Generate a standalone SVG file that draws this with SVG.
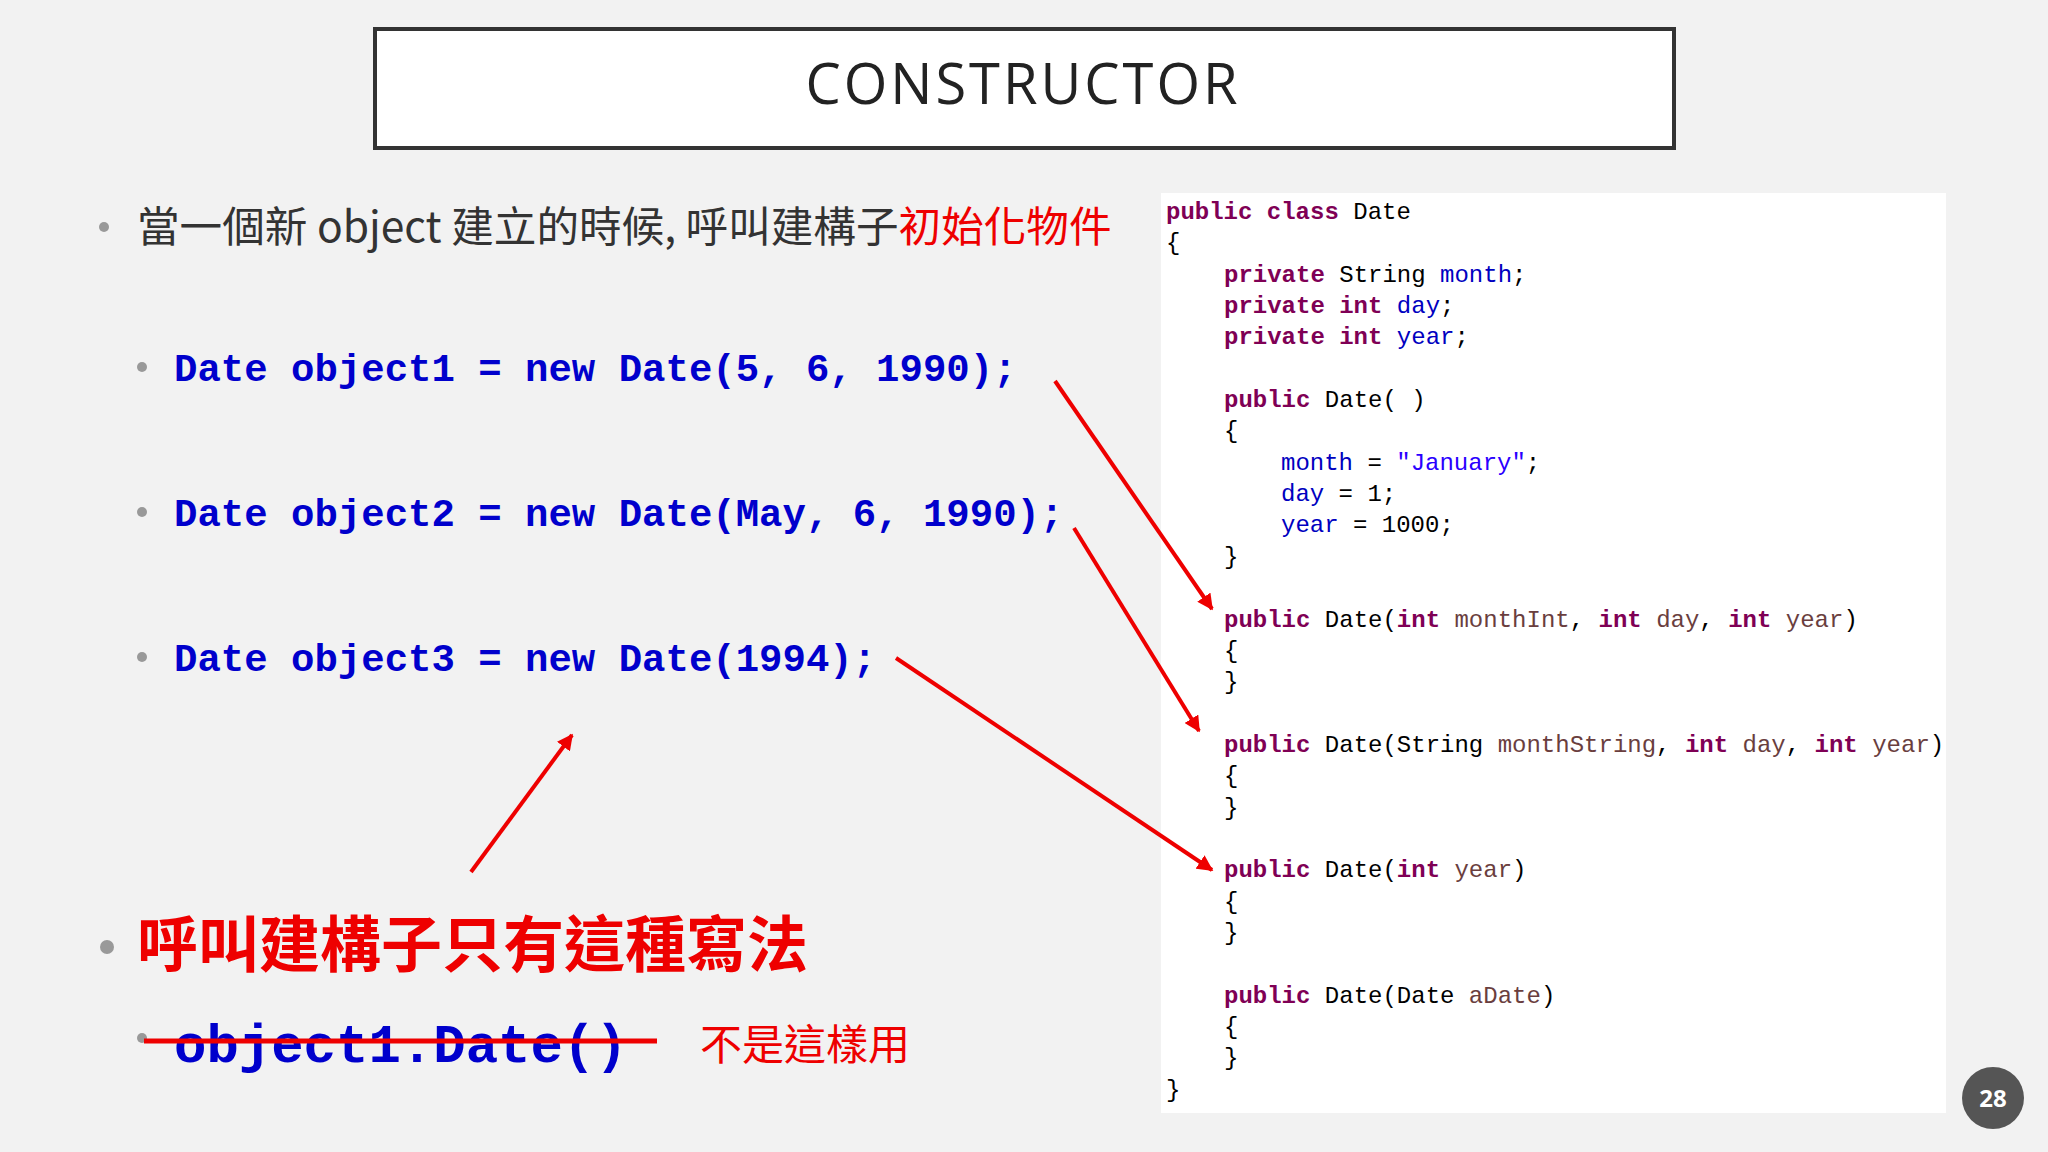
<svg xmlns="http://www.w3.org/2000/svg" width="2048" height="1152" viewBox="0 0 2048 1152">
<defs>
<style>
.cjk{font-family:"Noto Sans CJK TC","Noto Sans",sans-serif}
.code{font-family:"Liberation Mono",monospace;font-size:24px;fill:#000}
.big{font-family:"Liberation Mono",monospace;font-size:39px;font-weight:bold;fill:#0000cc}
.kw{fill:#7f0055;font-weight:bold}
.fd{fill:#0000c0}
.pm{fill:#6a3e3e}
.st{fill:#2a00ff}
.dot{fill:#999}
.arr{stroke:#ee0000;stroke-width:4;fill:none;marker-end:url(#ah)}
</style>
<marker id="ah" viewBox="0 0 10 10" refX="9" refY="5" markerWidth="4" markerHeight="4" orient="auto" markerUnits="strokeWidth"><path d="M0,0 L10,5 L0,10 z" fill="#ee0000"/></marker>
</defs>
<rect width="2048" height="1152" fill="#f2f2f2"/>
<g id="title">
<rect x="375" y="29" width="1299" height="119" fill="#fff" stroke="#333" stroke-width="4"/>
<text x="1023" y="104" text-anchor="middle" font-family="Open Sans, sans-serif" font-size="56" letter-spacing="3" fill="#222">CONSTRUCTOR</text>
</g>
<g id="left">
<circle class="dot" cx="104" cy="227" r="5"/>
<text x="137" y="242" class="cjk" font-size="42.6" fill="#333">當一個新 object 建立的時候, 呼叫建構子<tspan fill="#ee0000">初始化物件</tspan></text>
<circle class="dot" cx="142" cy="367" r="5"/>
<text x="174" y="381" class="big">Date object1 = new Date(5, 6, 1990);</text>
<circle class="dot" cx="142" cy="512" r="5"/>
<text x="174" y="526" class="big">Date object2 = new Date(May, 6, 1990);</text>
<circle class="dot" cx="142" cy="657" r="5"/>
<text x="174" y="671" class="big">Date object3 = new Date(1994);</text>
<circle class="dot" cx="107" cy="947" r="7"/>
<text x="137" y="967" class="cjk" font-size="61" font-weight="bold" fill="#ee0000">呼叫建構子只有這種寫法</text>
<circle class="dot" cx="142" cy="1038" r="5"/>
<text x="174" y="1062" class="big" style="font-size:54px">object1.Date()</text>
<line x1="144" y1="1041" x2="657" y2="1041" stroke="#ee0000" stroke-width="5"/>
<text x="700" y="1060" class="cjk" font-size="42" fill="#ee0000">不是這樣用</text>
</g>
<g id="code">
<rect x="1161" y="193" width="785" height="920" fill="#fff"/>
<text class="code" x="1166" y="219"><tspan class="kw">public class</tspan> Date</text>
<text class="code" x="1166" y="250">{</text>
<text class="code" x="1224" y="282"><tspan class="kw">private</tspan> String <tspan class="fd">month</tspan>;</text>
<text class="code" x="1224" y="313"><tspan class="kw">private int</tspan> <tspan class="fd">day</tspan>;</text>
<text class="code" x="1224" y="344"><tspan class="kw">private int</tspan> <tspan class="fd">year</tspan>;</text>
<text class="code" x="1224" y="407"><tspan class="kw">public</tspan> Date( )</text>
<text class="code" x="1224" y="438">{</text>
<text class="code" x="1281" y="470"><tspan class="fd">month</tspan> = <tspan class="st">"January"</tspan>;</text>
<text class="code" x="1281" y="501"><tspan class="fd">day</tspan> = 1;</text>
<text class="code" x="1281" y="532"><tspan class="fd">year</tspan> = 1000;</text>
<text class="code" x="1224" y="564">}</text>
<text class="code" x="1224" y="627"><tspan class="kw">public</tspan> Date(<tspan class="kw">int</tspan> <tspan class="pm">monthInt</tspan>, <tspan class="kw">int</tspan> <tspan class="pm">day</tspan>, <tspan class="kw">int</tspan> <tspan class="pm">year</tspan>)</text>
<text class="code" x="1224" y="658">{</text>
<text class="code" x="1224" y="689">}</text>
<text class="code" x="1224" y="752"><tspan class="kw">public</tspan> Date(String <tspan class="pm">monthString</tspan>, <tspan class="kw">int</tspan> <tspan class="pm">day</tspan>, <tspan class="kw">int</tspan> <tspan class="pm">year</tspan>)</text>
<text class="code" x="1224" y="783">{</text>
<text class="code" x="1224" y="815">}</text>
<text class="code" x="1224" y="877"><tspan class="kw">public</tspan> Date(<tspan class="kw">int</tspan> <tspan class="pm">year</tspan>)</text>
<text class="code" x="1224" y="909">{</text>
<text class="code" x="1224" y="940">}</text>
<text class="code" x="1224" y="1003"><tspan class="kw">public</tspan> Date(Date <tspan class="pm">aDate</tspan>)</text>
<text class="code" x="1224" y="1034">{</text>
<text class="code" x="1224" y="1065">}</text>
<text class="code" x="1166" y="1097">}</text>
</g>
<g id="connectors">
<line class="arr" x1="1055" y1="381" x2="1212" y2="609"/>
<line class="arr" x1="1074" y1="528" x2="1199" y2="731"/>
<line class="arr" x1="896" y1="658" x2="1212" y2="870"/>
<line class="arr" x1="471" y1="872" x2="572" y2="735"/>
</g>
<g id="page">
<circle cx="1993" cy="1098" r="31" fill="#555"/>
<text x="1993" y="1107" text-anchor="middle" font-family="Open Sans, sans-serif" font-size="24" font-weight="bold" fill="#fff">28</text>
</g>
</svg>
